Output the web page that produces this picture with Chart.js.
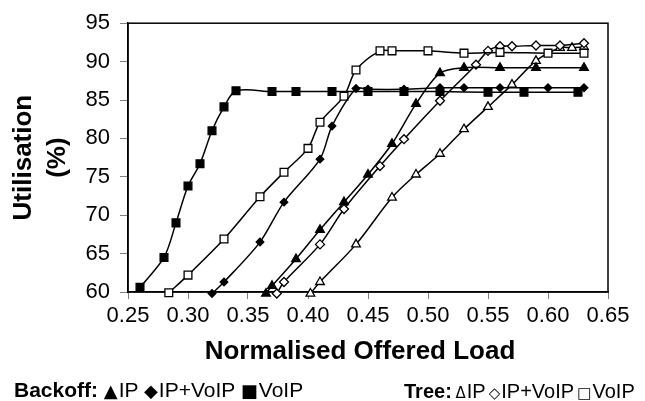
<!DOCTYPE html>
<html lang="en">
<head>
    <meta charset="UTF-8">
    <title>Utilisation vs Normalised Offered Load</title>
    <script src="https://cdn.jsdelivr.net/npm/chart.js"></script>
    <style>
        body {
            margin: 0;
            background-color: #fff;
            font-family: 'Liberation Sans', Arial, sans-serif;
        }
        .wrap {
            position: relative;
            width: 645px;
            height: 401px;
        }
        .legend {
            position: absolute;
            top: 378px;
            font-size: 21px;
            line-height: 24px;
            color: #000;
            white-space: nowrap;
        }
        .legend.tree {
            font-size: 20px;
            word-spacing: -2px;
            top: 379px;
        }
        .sym {
            font-family: 'DejaVu Sans', sans-serif;
            font-size: 18px;
            margin-right: 1px;
        }
        .open {
            font-family: 'DejaVu Sans', sans-serif;
            font-size: 15px;
            margin-right: 1px;
        }
    </style>
</head>
<body>
    <div class="wrap">
        <canvas id="utilChart" width="645" height="401"></canvas>
        <div class="legend" style="left: 14px;">
            <b>Backoff:</b> <span class="sym">▲</span>IP <span class="sym">◆</span>IP+VoIP <span class="sym">■</span>VoIP
        </div>
        <div class="legend tree" style="left: 404px;">
            <b>Tree:</b> <span class="open">Δ</span>IP <span class="open">◇</span>IP+VoIP <span class="open">□</span>VoIP
        </div>
    </div>

    <script>
        // Backoff series (filled markers)
        const backoffIpX = [0.365, 0.37, 0.39, 0.41, 0.43, 0.45, 0.47, 0.49, 0.51, 0.53, 0.56, 0.59, 0.63];
        const backoffIpY = [59.8, 60.8, 64.3, 68.1, 71.7, 75.3, 79.3, 84.5, 88.5, 89.2, 89.2, 89.2, 89.2];

        const backoffMixX = [0.32, 0.33, 0.36, 0.38, 0.41, 0.42, 0.44, 0.45, 0.48, 0.51, 0.53, 0.56, 0.60, 0.63];
        const backoffMixY = [59.8, 61.3, 66.5, 71.7, 77.3, 81.6, 86.5, 86.4, 86.4, 86.6, 86.6, 86.6, 86.6, 86.6];

        const backoffVoipX = [0.26, 0.28, 0.29, 0.30, 0.31, 0.32, 0.33, 0.34, 0.37, 0.39, 0.42, 0.45, 0.48, 0.51, 0.55, 0.58, 0.625];
        const backoffVoipY = [60.6, 64.5, 69.0, 73.8, 76.7, 81.0, 84.1, 86.2, 86.1, 86.1, 86.1, 86.1, 86.1, 86.1, 86.0, 86.0, 86.0];

        // Tree series (open markers)
        const treeIpX = [0.402, 0.41, 0.44, 0.47, 0.49, 0.51, 0.53, 0.55, 0.57, 0.59, 0.61, 0.62, 0.63];
        const treeIpY = [59.8, 61.3, 66.2, 72.3, 75.3, 78.0, 81.2, 84.1, 87.0, 90.1, 91.8, 91.8, 91.9];

        const treeMixX = [0.374, 0.38, 0.41, 0.43, 0.46, 0.48, 0.51, 0.54, 0.55, 0.56, 0.57, 0.59, 0.61, 0.63];
        const treeMixY = [59.8, 61.3, 66.2, 70.8, 76.4, 79.9, 84.9, 89.6, 91.4, 92.0, 92.0, 92.1, 92.1, 92.4];

        const treeVoipX = [0.284, 0.30, 0.33, 0.36, 0.38, 0.40, 0.41, 0.43, 0.44, 0.46, 0.47, 0.50, 0.53, 0.56, 0.60, 0.63];
        const treeVoipY = [59.9, 62.2, 66.9, 72.4, 75.6, 78.7, 82.1, 85.5, 88.9, 91.4, 91.4, 91.4, 91.1, 91.2, 91.1, 91.1];

        // Axis settings
        const xMin = 0.25, xMax = 0.65, xStep = 0.05;
        const yMin = 60, yMax = 95, yStep = 5;
        const xTitle = 'Normalised Offered Load';
        const yTitle = ['Utilisation', '(%)'];

        function toPoints(xs, ys) {
            return xs.map((x, i) => ({ x: x, y: ys[i] }));
        }

        function makeSeries(label, xs, ys, style, radius, filled) {
            return {
                label: label,
                data: toPoints(xs, ys),
                borderColor: '#000',
                borderWidth: 1.5,
                tension: 0.3,
                pointStyle: style,
                pointRadius: radius,
                pointHoverRadius: radius,
                pointBorderWidth: 1.3,
                pointBackgroundColor: filled ? '#000' : '#fff',
                pointBorderColor: '#000',
                clip: false
            };
        }

        // Frame around the plot area, plus the x axis title (sits a bit left of centre)
        const frame = {
            id: 'frame',
            beforeDatasetsDraw(chart) {
                const a = chart.chartArea;
                const c = chart.ctx;
                c.save();
                c.strokeStyle = '#000';
                c.lineWidth = 1.5;
                c.strokeRect(a.left, a.top, a.right - a.left, a.bottom - a.top);
                c.fillStyle = '#000';
                c.font = 'bold 26px "Liberation Sans"';
                c.textAlign = 'center';
                c.textBaseline = 'middle';
                c.fillText(xTitle, a.left + (a.right - a.left) / 2 - 8, 352);
                c.restore();
            }
        };

        const ctx = document.getElementById('utilChart').getContext('2d');
        new Chart(ctx, {
            type: 'line',
            data: {
                datasets: [
                    makeSeries('Backoff VoIP', backoffVoipX, backoffVoipY, 'rect', 5.5, true),
                    makeSeries('Backoff IP+VoIP', backoffMixX, backoffMixY, 'rectRot', 3.8, true),
                    makeSeries('Backoff IP', backoffIpX, backoffIpY, 'triangle', 5, true),
                    makeSeries('Tree VoIP', treeVoipX, treeVoipY, 'rect', 5.5, false),
                    makeSeries('Tree IP+VoIP', treeMixX, treeMixY, 'rectRot', 4.5, false),
                    makeSeries('Tree IP', treeIpX, treeIpY, 'triangle', 5, false)
                ]
            },
            options: {
                responsive: false,
                animation: false,
                layout: {
                    padding: { top: 23, right: 37, bottom: 29, left: 0 }
                },
                plugins: {
                    legend: { display: false },
                    tooltip: { enabled: false }
                },
                scales: {
                    x: {
                        type: 'linear',
                        min: xMin,
                        max: xMax,
                        afterFit: s => { s.height = 80; },
                        ticks: {
                            stepSize: xStep,
                            color: '#000',
                            padding: 4,
                            font: { family: 'Liberation Sans', size: 22 },
                            callback: v => v.toFixed(2)
                        },
                        grid: {
                            drawOnChartArea: false,
                            drawTicks: true,
                            tickLength: 7,
                            color: '#808080'
                        },
                        border: { color: '#000', width: 1.5 }
                    },
                    y: {
                        min: yMin,
                        max: yMax,
                        afterFit: s => { s.width = 128; },
                        ticks: {
                            stepSize: yStep,
                            color: '#000',
                            padding: 10,
                            font: { family: 'Liberation Sans', size: 22 }
                        },
                        grid: {
                            drawOnChartArea: false,
                            drawTicks: true,
                            tickLength: 8,
                            color: '#808080'
                        },
                        border: { color: '#000', width: 1.5 },
                        title: {
                            display: true,
                            text: yTitle,
                            color: '#000',
                            padding: { top: 7, bottom: 4 },
                            font: { family: 'Liberation Sans', size: 26, weight: 'bold', lineHeight: 1.3 }
                        }
                    }
                }
            },
            plugins: [frame]
        });
    </script>
</body>
</html>
